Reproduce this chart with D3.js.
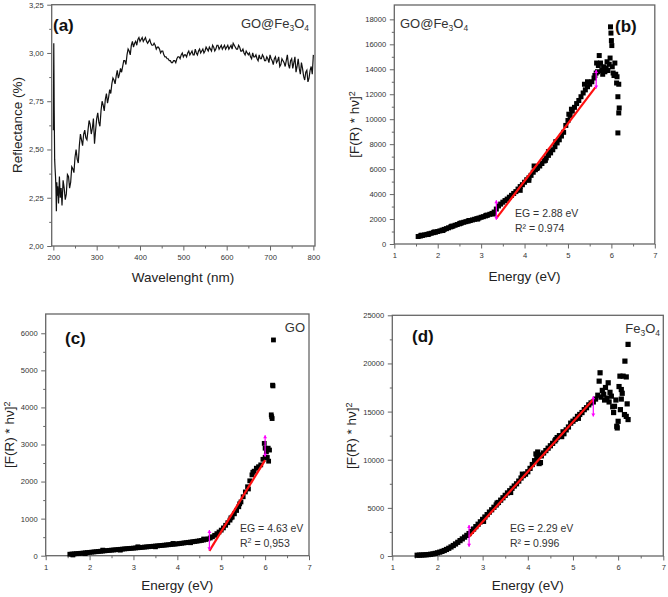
<!DOCTYPE html>
<html><head><meta charset="utf-8">
<script src="https://cdn.jsdelivr.net/npm/d3@7"></script>
<style>
body{margin:0;background:#fff}
svg{display:block}
text{font-family:"Liberation Sans",Arial,sans-serif;fill:#222}
</style>
</head><body>
<svg id="chart" width="668" height="597"></svg>
<script>
// ---------- DATA ----------
// (a) Reflectance vs wavelength
const aHeadWl   = [200, 201, 202, 203, 204, 205, 206, 207, 208, 209, 210, 212, 214, 216, 218];
const aHeadRefl = [2.60, 3.05, 2.70, 2.45, 2.40, 2.36, 2.30, 2.18, 2.33, 2.26, 2.31, 2.22, 2.36, 2.25, 2.30];
const aBodyStart = 220, aBodyStep = 5;   // values at 220, 225, ... 800 nm
const aBodyRefl = [
 2.21,2.30,2.27,2.36,2.33,2.40,2.46,2.45,2.52,2.55,2.58,2.56,2.60,2.63,2.61,2.53,
 2.66,2.64,2.70,2.73,2.76,2.74,2.81,2.84,2.86,2.88,2.87,2.92,2.93,2.96,2.99,3.01,3.04,3.03,3.06,3.07,
 3.06,3.08,3.07,3.06,3.06,3.05,3.04,3.04,3.03,3.02,3.01,2.99,2.98,2.97,2.96,2.95,2.96,2.97,2.98,2.99,
 2.98,2.99,3.00,2.99,3.01,2.99,3.00,3.01,3.00,3.02,3.01,3.02,3.03,3.01,3.03,3.02,3.04,3.03,3.02,3.04,
 3.03,3.02,3.04,3.05,3.03,3.02,3.03,3.01,3.00,3.01,2.99,2.98,3.00,2.98,2.97,2.99,2.97,2.98,2.96,2.97,
 2.99,2.96,2.97,2.95,2.98,2.94,2.96,2.93,2.99,2.92,2.97,2.95,2.90,2.97,2.89,2.92,2.86,2.91,2.87,2.93,
 2.99];
const aMidStart = 222.5;                 // values at 222.5, 227.5, ... 797.5 nm
const aMidRefl = [
 2.34,2.24,2.37,2.30,2.41,2.38,2.50,2.43,2.58,2.52,2.60,2.55,2.65,2.58,2.66,2.60,
 2.69,2.62,2.75,2.70,2.79,2.77,2.79,2.87,2.84,2.91,2.89,2.90,2.96,2.94,3.02,2.99,3.06,3.05,3.04,3.08,
 3.07,3.06,3.08,3.05,3.07,3.04,3.05,3.02,3.03,3.00,3.01,2.98,2.97,2.96,2.95,2.96,2.95,2.98,2.97,3.00,
 2.99,2.98,3.01,3.00,2.99,3.02,2.99,3.02,3.01,3.00,3.03,3.01,3.02,3.04,3.01,3.04,3.02,3.04,3.03,3.02,
 3.04,3.03,3.02,3.04,3.02,3.04,3.01,3.02,2.99,3.00,3.00,2.97,2.98,2.99,2.96,2.97,2.99,2.96,2.98,2.95,
 2.97,2.94,2.98,2.96,2.93,2.97,2.95,2.96,2.94,2.96,2.92,2.98,2.93,2.92,2.95,2.88,2.90,2.85,2.91,2.89];
const aXTicks = [200,300,400,500,600,700,800];
const aYTicks = [2.00,2.25,2.50,2.75,3.00,3.25];
const aYLabels = ["2,00","2,25","2,50","2,75","3,00","3,25"];

// (b) GO@Fe3O4 Tauc
const bMain = [[1.55,600],[1.60,640],[1.65,690],[1.70,730],[1.75,770],[1.80,820],[1.85,860],[1.90,910],[1.95,950],[2.00,1000],[2.05,1050],[2.10,1110],[2.15,1170],[2.20,1230],[2.25,1300],[2.30,1370],[2.35,1430],[2.40,1500],[2.45,1560],[2.50,1620],[2.55,1690],[2.60,1740],[2.65,1790],[2.70,1830],[2.75,1880],[2.80,1930],[2.85,1980],[2.90,2030],[2.95,2080],[3.00,2140],[3.05,2190],[3.10,2250],[3.15,2310],[3.20,2380],[3.25,2450],[3.30,2560],[3.35,2800],[3.40,3050],[3.45,3200],[3.50,3350],[3.55,3480],[3.60,3600],[3.65,3750],[3.70,3900],[3.75,4050],[3.80,4200],[3.85,4400],[3.90,4600],[3.95,4750],[4.00,4950],[4.05,5150],[4.10,5300],[4.15,5500],[4.20,5750],[4.25,5950],[4.30,6100],[4.35,6250],[4.40,6450],[4.45,6650],[4.50,6900],[4.55,7100],[4.60,7300],[4.65,7550],[4.70,7800],[4.75,8100],[4.80,8350],[4.85,8650],[4.90,8950],[4.95,9500],[5.00,9900],[5.05,10300],[5.10,10650],[5.15,10950],[5.20,11250],[5.25,11500],[5.30,11800],[5.35,12100],[5.40,12350],[5.45,12600],[5.50,12800],[5.55,13000],[5.60,13300],[5.65,13700],
 [1.62,700],[1.78,760],[1.92,960],[2.12,1080],[2.32,1420],[2.52,1660],[2.72,1880],[2.92,2000],[3.12,2300],[3.28,2400],
 [3.90,4300],[4.10,5100],[4.22,6250],[4.28,6050],[4.48,6700],[4.55,7400],[4.72,8200],[5.02,10400],[5.08,10800],[5.38,12800],[5.45,13000]];
const bTail = [[5.62,13500],[5.66,14500],[5.68,13800],[5.70,14300],[5.72,15100],[5.75,14500],[5.78,13900],[5.80,13600],[5.82,14200],[5.85,13800],[5.88,14100],[5.90,14600],[5.92,13900],[5.95,14400],[5.97,14900],[5.98,17400],[5.99,16900],[6.00,16300],[6.01,15900],[6.02,14200],[6.04,13700],[6.06,13500],[6.08,14500],[6.10,13600],[6.12,12900],[6.13,13400],[6.15,11800],[6.17,12800],[6.18,10900],[6.17,10500],[6.15,8900]];
const bFit = [[3.35,2060],[5.63,12550]];
const bMarks = [[3.35,1950,3500],[5.65,12450,13950]];
const bXTicks = [1,2,3,4,5,6,7];
const bYTicks = [0,2000,4000,6000,8000,10000,12000,14000,16000,18000];

// (c) GO Tauc
const cMain = [[1.55,40],[1.60,45],[1.65,50],[1.70,55],[1.75,60],[1.80,65],[1.85,70],[1.90,78],[1.95,84],[2.00,90],[2.05,96],[2.10,102],[2.15,108],[2.20,114],[2.25,120],[2.30,126],[2.35,132],[2.40,138],[2.45,144],[2.50,150],[2.55,155],[2.60,160],[2.65,166],[2.70,172],[2.75,178],[2.80,184],[2.85,189],[2.90,194],[2.95,199],[3.00,204],[3.05,210],[3.10,215],[3.15,221],[3.20,226],[3.25,232],[3.30,238],[3.35,243],[3.40,249],[3.45,255],[3.50,260],[3.55,266],[3.60,272],[3.65,278],[3.70,284],[3.75,290],[3.80,296],[3.85,302],[3.90,308],[3.95,314],[4.00,320],[4.05,328],[4.10,336],[4.15,344],[4.20,352],[4.25,360],[4.30,368],[4.35,376],[4.40,384],[4.45,393],[4.50,402],[4.55,412],[4.60,424],[4.65,438],[4.70,455],[4.75,478],[4.80,510],[4.85,550],[4.90,595],[4.95,640],[5.00,690],[5.05,750],[5.10,820],[5.15,890],[5.20,960],[5.25,1040],[5.30,1130],[5.35,1220],[5.40,1320],[5.45,1450],[5.50,1590],[5.55,1720],[5.60,1860],[5.65,2020],[5.70,2180],[5.75,2280],[5.80,2360],[5.85,2400],[5.90,2450],[5.95,2600],[6.00,2650],
 [1.62,20],[1.9,55],[2.3,150],[2.7,150],[3.1,240],[3.5,240],[3.9,330],[4.3,350],[4.6,450],[5.22,1020],[5.42,1400],[5.62,1800],[5.72,2250]];
const cTail = [[5.98,3030],[6.00,2900],[6.03,2800],[6.05,2650],[6.07,2900],[6.08,2550],[6.10,2850],[6.14,3800],[6.15,3750],[6.16,3700],[6.17,4600],[6.18,4580],[6.19,5820]];
const cFit = [[4.73,130],[6.00,2580]];
const cMarks = [[4.73,150,690],[6.00,2670,3250]];
const cXTicks = [1,2,3,4,5,6,7];
const cYTicks = [0,1000,2000,3000,4000,5000,6000];

// (d) Fe3O4 Tauc
const dMain = [[1.55,80],[1.60,90],[1.65,100],[1.70,115],[1.75,130],[1.80,150],[1.85,180],[1.90,220],[1.95,270],[2.00,330],[2.05,400],[2.10,480],[2.15,570],[2.20,680],[2.25,800],[2.30,940],[2.35,1090],[2.40,1250],[2.45,1420],[2.50,1600],[2.55,1780],[2.60,1960],[2.65,2140],[2.70,2330],[2.75,2560],[2.80,2800],[2.85,3050],[2.90,3300],[2.95,3550],[3.00,3800],[3.05,4050],[3.10,4300],[3.15,4560],[3.20,4800],[3.25,5060],[3.30,5300],[3.35,5560],[3.40,5800],[3.45,6050],[3.50,6300],[3.55,6550],[3.60,6780],[3.65,7030],[3.70,7270],[3.75,7500],[3.80,7780],[3.85,8100],[3.90,8350],[3.95,8500],[4.00,8750],[4.05,9100],[4.10,9500],[4.15,9900],[4.20,10200],[4.25,10500],[4.30,10400],[4.35,10700],[4.40,10950],[4.45,11200],[4.50,11450],[4.55,11700],[4.60,11950],[4.65,12300],[4.70,12500],[4.75,12400],[4.80,12700],[4.85,13100],[4.90,13400],[4.95,13800],[5.00,14000],[5.05,14200],[5.10,14500],[5.15,14700],[5.20,14900],[5.25,15200],[5.30,15400],[5.35,15700],[5.40,15900],[5.45,16000],
 [4.18,10600],[4.22,10800],[4.25,9600],[4.28,9700],[3.88,8500],[4.62,12100],[3.02,3600],[3.32,5500],[3.62,6600],[4.78,12900],[5.12,14300]];
const dTail = [[5.50,16300],[5.55,16700],[5.58,18160],[5.60,19030],[5.62,16500],[5.65,17200],[5.68,16800],[5.70,16200],[5.72,17500],[5.75,16400],[5.78,17990],[5.80,16000],[5.82,17000],[5.85,16600],[5.88,15500],[5.90,14900],[5.92,15550],[5.95,16200],[5.97,13470],[6.00,13990],[6.02,17600],[6.04,18680],[6.05,15200],[6.07,17290],[6.07,16300],[6.09,16900],[6.11,18680],[6.14,14690],[6.15,20240],[6.18,18600],[6.18,14500],[6.20,15800],[6.22,14170],[6.22,21980],[5.98,13300]];
const dFit = [[2.70,2010],[5.45,16250]];
const dMarks = [[2.70,970,3230],[5.45,14500,16600]];
const dXTicks = [1,2,3,4,5,6,7];
const dYTicks = [0,5000,10000,15000,20000,25000];

// ---------- DRAW ----------
const svg = d3.select("#chart");
const AX = "#666";

function frame(g, x, y, xTicks, xMinor, yTicks, yMinor, xFmt, yFmt) {
  const [x0, x1] = x.range(), [y0, y1] = y.range();
  g.append("g").attr("transform", `translate(0,${y0})`)
    .call(d3.axisBottom(x).tickValues(xMinor).tickSize(2.5).tickFormat(""))
    .call(s => { s.select(".domain").remove(); s.selectAll("line").attr("stroke", AX); });
  g.append("g").attr("transform", `translate(${x0},0)`)
    .call(d3.axisLeft(y).tickValues(yMinor).tickSize(2.5).tickFormat(""))
    .call(s => { s.select(".domain").remove(); s.selectAll("line").attr("stroke", AX); });
  g.append("g").attr("transform", `translate(0,${y0})`)
    .call(d3.axisBottom(x).tickValues(xTicks).tickSize(4.5).tickPadding(4).tickFormat(xFmt))
    .call(s => { s.select(".domain").remove(); s.selectAll("line").attr("stroke", AX);
      s.selectAll("text").style("font-size", "7.6px").style("fill", "#333"); });
  g.append("g").attr("transform", `translate(${x0},0)`)
    .call(d3.axisLeft(y).tickValues(yTicks).tickSize(4.5).tickPadding(3.5).tickFormat(yFmt))
    .call(s => { s.select(".domain").remove(); s.selectAll("line").attr("stroke", AX);
      s.selectAll("text").style("font-size", "7.6px").style("fill", "#333"); });
  g.append("rect").attr("x", x0).attr("y", y1).attr("width", x1 - x0).attr("height", y0 - y1)
    .attr("fill", "none").attr("stroke", AX).attr("stroke-width", 1.3);
}

function midpoints(t) { const out = []; for (let i = 0; i < t.length - 1; i++) out.push((t[i] + t[i+1]) / 2); return out; }

function yTitle(g, cx, cy) {
  const t = g.append("text").attr("transform", `translate(${cx},${cy}) rotate(-90)`)
    .attr("text-anchor", "middle").style("font-size", "13.5px");
  t.append("tspan").text("[F(R) * hν]");
  t.append("tspan").attr("dy", -4.5).style("font-size", "9px").text("2");
}

function tauc(opts) {
  const g = svg.append("g");
  const x = d3.scaleLinear().domain([1, 7]).range(opts.xr);
  const y = d3.scaleLinear().domain(opts.yd).range(opts.yr);
  frame(g, x, y, opts.xTicks, midpoints(opts.xTicks), opts.yTicks, midpoints(opts.yTicks), d3.format("d"), d3.format("d"));
  const s = opts.size;
  g.append("g").selectAll("rect").data(opts.main.concat(opts.tail)).join("rect")
    .attr("x", d => x(d[0]) - s/2).attr("y", d => y(d[1]) - s/2)
    .attr("width", s).attr("height", s).attr("fill", "#000");
  g.append("line").attr("x1", x(opts.fit[0][0])).attr("y1", y(opts.fit[0][1]))
    .attr("x2", x(opts.fit[1][0])).attr("y2", y(opts.fit[1][1]))
    .attr("stroke", "#ff1010").attr("stroke-width", 2.2);
  opts.marks.forEach(m => {
    const mx = x(m[0]), ya = y(m[1]), yb = y(m[2]);
    g.append("line").attr("x1", mx).attr("x2", mx).attr("y1", ya).attr("y2", yb)
      .attr("stroke", "#ff00ff").attr("stroke-width", 1.2);
    g.append("path").attr("d", `M${mx-2},${ya-3}L${mx+2},${ya-3}L${mx},${ya}Z M${mx-2},${yb+3}L${mx+2},${yb+3}L${mx},${yb}Z`)
      .attr("fill", "#ff00ff");
  });
  g.append("text").attr("x", (opts.xr[0] + opts.xr[1]) / 2).attr("y", opts.xTitleY)
    .attr("text-anchor", "middle").style("font-size", "13.5px").text("Energy (eV)");
  yTitle(g, opts.yTitleX, (opts.yr[0] + opts.yr[1]) / 2);
  g.append("text").attr("x", opts.eg[0]).attr("y", opts.eg[1]).style("font-size", "10.5px").style("fill", "#333").text(opts.egText);
  if (opts.r2Text) g.append("text").attr("x", opts.eg[0]).attr("y", opts.eg[1] + 15).style("font-size", "10.5px").style("fill", "#333").text(opts.r2Text);
  return { g, x, y };
}

function formula(g, xpos, ypos, anchor, parts, size) {
  const t = g.append("text").attr("x", xpos).attr("y", ypos).attr("text-anchor", anchor).style("font-size", size + "px").style("fill", "#333");
  parts.forEach(p => {
    if (p.sub) t.append("tspan").attr("dy", 3).style("font-size", (size * 0.65) + "px").text(p.t);
    else t.append("tspan").attr("dy", p.after ? -3 : 0).text(p.t);
  });
  return t;
}
const goFeParts = [{t:"GO@Fe"},{t:"3",sub:true},{t:"O",after:true},{t:"4",sub:true}];
const feParts = [{t:"Fe"},{t:"3",sub:true},{t:"O",after:true},{t:"4",sub:true}];

// ----- Panel (a) -----
{
  const g = svg.append("g");
  const x = d3.scaleLinear().domain([196.2, 803.8]).range([51.7, 315]);
  const y = d3.scaleLinear().domain([2.0, 3.25]).range([246, 4.7]);
  const fmtY = v => aYLabels[aYTicks.findIndex(t => Math.abs(t - v) < 1e-6)];
  frame(g, x, y, aXTicks, midpoints(aXTicks), aYTicks, midpoints(aYTicks), d3.format("d"), fmtY);
  const pts = aHeadWl.map((w, i) => [w, aHeadRefl[i]])
    .concat(aBodyRefl.map((r, i) => [aBodyStart + i * aBodyStep, r]))
    .concat(aMidRefl.map((r, i) => [aMidStart + i * aBodyStep, r]))
    .sort((p, q) => p[0] - q[0]);
  g.append("path").datum(pts).attr("fill", "none").attr("stroke", "#111").attr("stroke-width", 1.2)
    .attr("stroke-linejoin", "miter")
    .attr("d", d3.line().x(d => x(d[0])).y(d => y(d[1])));
  g.append("text").attr("x", 183).attr("y", 282).attr("text-anchor", "middle").style("font-size", "13.5px").text("Wavelenght (nm)");
  g.append("text").attr("transform", "translate(22,125) rotate(-90)").attr("text-anchor", "middle").style("font-size", "13.5px").text("Reflectance (%)");
  g.append("text").attr("x", 53).attr("y", 31).style("font-size", "17px").style("font-weight", "bold").style("fill", "#111").text("(a)");
  formula(g, 309, 28, "end", goFeParts, 13);
}

// ----- Panel (b) -----
{
  const p = tauc({ xr:[394.3, 654.8], yd:[0, 19150], yr:[244, 5], xTicks:bXTicks, yTicks:bYTicks,
    main:bMain, tail:bTail, fit:bFit, marks:bMarks, size:5, xTitleY:281, yTitleX:359,
    eg:[515, 217], egText:"EG = 2.88 eV", r2Text:"R² = 0.974" });
  p.g.append("text").attr("x", 615).attr("y", 32).style("font-size", "17px").style("font-weight", "bold").style("fill", "#111").text("(b)");
  formula(p.g, 400, 28, "start", goFeParts, 13);
}

// ----- Panel (c) -----
{
  const p = tauc({ xr:[45.7, 309], yd:[0, 6520], yr:[555.7, 314], xTicks:cXTicks, yTicks:cYTicks,
    main:cMain, tail:cTail, fit:cFit, marks:cMarks, size:4.8, xTitleY:590, yTitleX:14,
    eg:[240, 532], egText:"EG = 4.63 eV", r2Text:"" });
  const r = p.g.append("text").attr("x", 240).attr("y", 547).style("font-size", "10.5px").style("fill", "#333");
  r.append("tspan").text("R");
  r.append("tspan").attr("dy", -4).style("font-size", "7px").text("2");
  r.append("tspan").attr("dy", 4).text(" = 0,953");
  p.g.append("text").attr("x", 65).attr("y", 344).style("font-size", "17px").style("font-weight", "bold").style("fill", "#111").text("(c)");
  p.g.append("text").attr("x", 305).attr("y", 332).attr("text-anchor", "end").style("font-size", "13px").style("fill", "#333").text("GO");
}

// ----- Panel (d) -----
{
  const p = tauc({ xr:[392.3, 663.3], yd:[0, 25000], yr:[556, 315.3], xTicks:dXTicks, yTicks:dYTicks,
    main:dMain, tail:dTail, fit:dFit, marks:dMarks, size:5.2, xTitleY:590, yTitleX:356,
    eg:[510, 532], egText:"EG = 2.29 eV", r2Text:"R² = 0.996" });
  p.g.append("text").attr("x", 412).attr("y", 342).style("font-size", "17px").style("font-weight", "bold").style("fill", "#111").text("(d)");
  formula(p.g, 660, 333, "end", feParts, 13);
}
</script>
</body></html>
